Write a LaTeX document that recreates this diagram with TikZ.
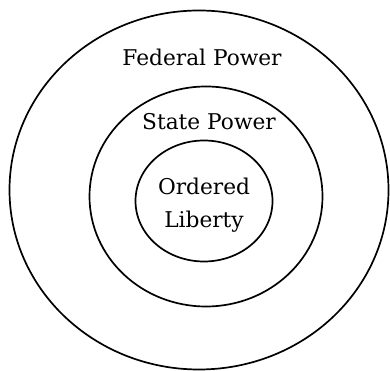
\documentclass[tikz,border=0pt]{standalone}
\usepackage{fontspec}
\setmainfont{DejaVu Serif}
\usetikzlibrary{shapes.geometric}
\tikzstyle{ring}=[draw, ellipse, line width=1.7pt, inner sep=0pt]
\tikzstyle{powerlabel}=[font=\fontsize{21.7}{33}\selectfont, inner sep=0pt]
\tikzstyle{corelabel}=[font=\fontsize{21.7}{33}\selectfont, inner sep=0pt,
    align=center]

\begin{document}
\begin{tikzpicture}[x=1pt,y=1pt]
    \useasboundingbox (0,0) rectangle (390,371);
    \node (federal) [ring, minimum width=379pt, minimum height=359pt] at (199,181) {};
    \node (state) [ring, minimum width=233pt, minimum height=220pt] at (206,174.5) {};
    \node (liberty) [ring, minimum width=137pt, minimum height=121pt] at (204,170) {};
    \path (federal.center)+(3,124) node (fedtext) [powerlabel, anchor=base] {Federal Power};
    \path (state.center)+(3,66.5) node (statetext) [powerlabel, anchor=base] {State Power};
    \path (liberty.center)+(0,-4) node (libtext) [corelabel] {Ordered\\Liberty};
\end{tikzpicture}
\end{document}
